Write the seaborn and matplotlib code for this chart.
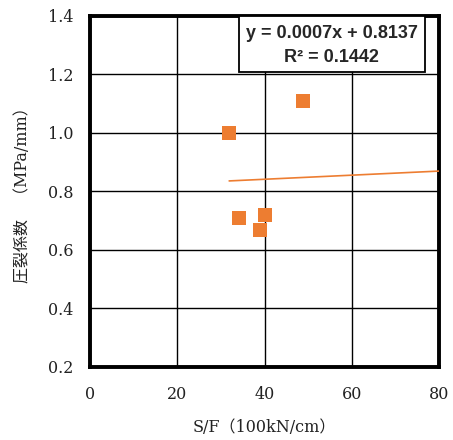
import matplotlib
matplotlib.use("Agg")
import matplotlib.pyplot as plt
from matplotlib.patches import Rectangle
import seaborn as sns
import numpy as np
import pandas as pd

# data
sf = [31.9, 48.9, 34.2, 40.1, 39.0]
coef = [1.000, 1.108, 0.710, 0.720, 0.668]
slope = 0.0007
intercept = 0.8137
r2 = 0.1442
trend_x = [31.9, 80]
x_ticks = [0, 20, 40, 60, 80]
y_ticks = [0.2, 0.4, 0.6, 0.8, 1.0, 1.2, 1.4]

sns.set_theme(style="white")
plt.rcParams['font.family'] = ['DejaVu Serif', 'Noto Sans CJK JP']

df = pd.DataFrame({"sf": sf, "coef": coef})
tx = np.array(trend_x)
tdf = pd.DataFrame({"x": tx, "y": slope * tx + intercept})

fig = plt.figure(figsize=(4.53, 4.40), dpi=100)
ax = fig.add_axes([0.1987, 0.166, 0.7704, 0.7977])

sns.lineplot(data=tdf, x="x", y="y", ax=ax, color="#ED7D31", linewidth=1.2, zorder=3)
sns.scatterplot(data=df, x="sf", y="coef", ax=ax, marker="s", s=100, color="#ED7D31",
                edgecolor="#ED7D31", linewidth=0, zorder=4)

ax.set_xlim(0, 80)
ax.set_ylim(0.2, 1.4)
ax.set_xticks(x_ticks)
ax.set_yticks(y_ticks)
ax.set_xticklabels([str(v) for v in x_ticks])
ax.set_yticklabels([f"{v:.1f}" for v in y_ticks])
ax.grid(True, color="black", linewidth=1.0)
ax.set_axisbelow(True)
for s in ax.spines.values():
    s.set_visible(True)
    s.set_color("black")
    s.set_linewidth(2.8)
ax.tick_params(axis="both", labelsize=11.5, colors="#222222", length=0)
ax.tick_params(axis="y", pad=12)
ax.tick_params(axis="x", pad=14)

ax.set_xlabel("S/F（100kN/cm）", fontsize=11.5, color="#222222", labelpad=11)
ax.set_ylabel("圧裂係数　（MPa/mm）", fontsize=11.5, color="#222222", labelpad=12)

# equation box
ax.add_patch(Rectangle((0.427, 0.840), 0.533, 0.160, transform=ax.transAxes,
                       facecolor="white", edgecolor="black", linewidth=1.3, zorder=5,
                       clip_on=False))
ax.text(0.692, 0.951, f"y = {slope:.4f}x + {intercept:.4f}",
        transform=ax.transAxes, ha="center", va="center", fontsize=13,
        fontweight="bold", family=['Liberation Sans'], zorder=6)
ax.text(0.692, 0.883, f"R² = {r2:.4f}",
        transform=ax.transAxes, ha="center", va="center", fontsize=13,
        fontweight="bold", family=['Liberation Sans'], zorder=6)

fig.savefig("out.png", dpi=100)
